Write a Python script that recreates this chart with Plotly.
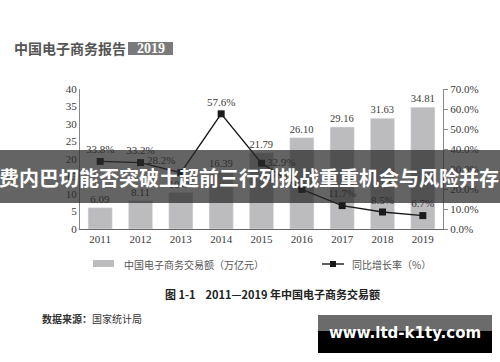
import plotly.graph_objects as go

years = ["2011", "2012", "2013", "2014", "2015", "2016", "2017", "2018", "2019"]
volume = [6.09, 8.11, 10.40, 16.39, 21.79, 26.10, 29.16, 31.63, 34.81]
growth = [33.8, 33.2, 28.2, 57.6, 32.9, 19.8, 11.7, 8.5, 6.7]
growth_pos = ["top center", "top center", "top left", "top center", "middle right",
              "top left", "top center", "top center", "top center"]
left_ticks = [0, 5, 10, 15, 20, 25, 30, 35, 40]
right_ticks = [0, 10, 20, 30, 40, 50, 60, 70]

W, H = 500, 362
L, R, T, B = 80, 443, 89, 229  # plot area in px

def px(x):
    return (x - L) / (R - L)

def py(y):
    return (B - y) / (B - T)

serif = "Liberation Serif"
cjk = "Noto Sans CJK SC"

fig = go.Figure()
fig.add_trace(go.Bar(
    x=years, y=volume, marker_color="#bcbcbe", width=0.6,
    text=[f"{v:.2f}" for v in volume], textposition="outside",
    textfont=dict(family=serif, size=11, color="#3a3a3a"),
    cliponaxis=False, showlegend=False,
))
fig.add_trace(go.Scatter(
    x=years, y=growth, yaxis="y2", mode="lines+markers+text",
    line=dict(color="#1a1a1a", width=1.4),
    marker=dict(symbol="square", size=7, color="#1a1a1a"),
    text=[f"{g:.1f}%" for g in growth], textposition=growth_pos,
    textfont=dict(family=serif, size=11, color="#3a3a3a"),
    cliponaxis=False, showlegend=False,
))

fig.update_layout(
    width=W, height=H,
    margin=dict(l=L, r=W - R, t=T, b=H - B, pad=0),
    paper_bgcolor="white", plot_bgcolor="white",
    bargap=0.4,
    xaxis=dict(type="category", range=[-0.5, 8.5], showline=True, linecolor="#666",
               linewidth=1, ticks="", showgrid=False,
               tickfont=dict(family=serif, size=11, color="#3a3a3a")),
    yaxis=dict(range=[0, 40], tickvals=left_ticks, showline=True, linecolor="#888",
               linewidth=1, ticks="", showgrid=False, zeroline=False,
               tickfont=dict(family=serif, size=11, color="#3a3a3a")),
    yaxis2=dict(range=[0, 70], tickvals=right_ticks,
                ticktext=[f"{v:.1f}%" for v in right_ticks],
                overlaying="y", side="right", showline=True, linecolor="#888",
                linewidth=1, ticks="outside", ticklen=4, tickcolor="#888",
                showgrid=False, zeroline=False,
                tickfont=dict(family=serif, size=11, color="#3a3a3a")),
)

shapes = []
ann = []

# header
ann.append(dict(x=px(12), y=py(48), xref="paper", yref="paper", xanchor="left", yanchor="middle",
                text="<b>中国电子商务报告</b>", showarrow=False,
                font=dict(family=cjk, size=14, color="#555")))
shapes.append(dict(type="rect", xref="paper", yref="paper", x0=px(128), x1=px(173),
                   y0=py(42), y1=py(55), fillcolor="#7a7a7a", line=dict(width=0)))
ann.append(dict(x=px(150.5), y=py(48.5), xref="paper", yref="paper", xanchor="center", yanchor="middle",
                text="<b>2019</b>", showarrow=False,
                font=dict(family=serif, size=14, color="white")))

# legend
shapes.append(dict(type="rect", xref="paper", yref="paper", x0=px(93), x1=px(114),
                   y0=py(260), y1=py(267), fillcolor="#bcbcbe", line=dict(width=0)))
ann.append(dict(x=px(122), y=py(264), xref="paper", yref="paper", xanchor="left", yanchor="middle",
                text="中国电子商务交易额（万亿元）", showarrow=False,
                font=dict(family=cjk, size=10, color="#555")))
shapes.append(dict(type="line", xref="paper", yref="paper", x0=px(322), x1=px(344),
                   y0=py(264), y1=py(264), line=dict(color="#1a1a1a", width=1.4)))
shapes.append(dict(type="rect", xref="paper", yref="paper", x0=px(330), x1=px(336),
                   y0=py(261), y1=py(267), fillcolor="#1a1a1a", line=dict(width=0)))
ann.append(dict(x=px(350), y=py(264), xref="paper", yref="paper", xanchor="left", yanchor="middle",
                text="同比增长率（%）", showarrow=False,
                font=dict(family=cjk, size=10, color="#555")))

# caption
ann.append(dict(x=px(272), y=py(294), xref="paper", yref="paper", xanchor="center", yanchor="middle",
                text="<b>图 1-1    2011—2019 年中国电子商务交易额</b>", showarrow=False,
                font=dict(family=cjk, size=11, color="#222")))
ann.append(dict(x=px(40), y=py(318), xref="paper", yref="paper", xanchor="left", yanchor="middle",
                text="<b>数据来源：</b>国家统计局", showarrow=False,
                font=dict(family=cjk, size=10, color="#333")))

# overlay banner
shapes.append(dict(type="rect", xref="paper", yref="paper", x0=px(0), x1=px(500),
                   y0=py(150), y1=py(203), fillcolor="rgba(40,40,40,0.72)", line=dict(width=0)))
ann.append(dict(x=px(249), y=py(177), xref="paper", yref="paper", xanchor="center", yanchor="middle",
                text="<b>费内巴切能否突破土超前三行列挑战重重机会与风险并存</b>", showarrow=False,
                font=dict(family=cjk, size=20, color="white")))

# watermark
shapes.append(dict(type="rect", xref="paper", yref="paper", x0=px(318), x1=px(492),
                   y0=py(315), y1=py(331), fillcolor="#6b6b6b", line=dict(width=0)))
shapes.append(dict(type="rect", xref="paper", yref="paper", x0=px(318), x1=px(492),
                   y0=py(331), y1=py(353), fillcolor="#000000", line=dict(width=0)))
ann.append(dict(x=px(405), y=py(333), xref="paper", yref="paper", xanchor="center", yanchor="middle",
                text="<b>www.ltd-k1ty.com</b>", showarrow=False,
                font=dict(family="DejaVu Sans", size=15, color="white")))

fig.update_layout(shapes=shapes, annotations=ann)
fig.write_html("out.html", config={"displayModeBar": False},
               post_script="document.body.style.margin='0';document.body.style.overflow='hidden';")
